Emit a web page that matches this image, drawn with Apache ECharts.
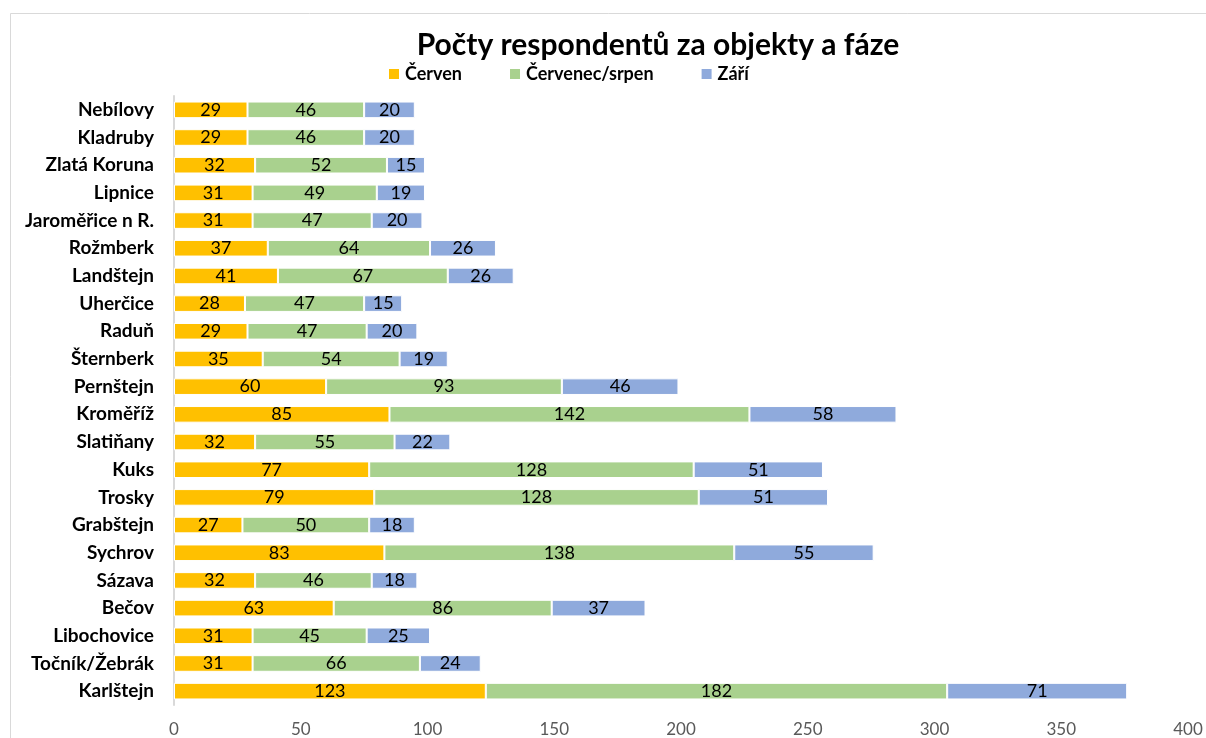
<!DOCTYPE html>
<html>
<head>
<meta charset="utf-8">
<script src="https://cdn.jsdelivr.net/npm/echarts@6/dist/echarts.min.js"></script>
<style>
html,body{margin:0;padding:0;background:#fff;}
#chart{width:1206px;height:738px;}
</style>
</head>
<body>
<div id="chart"></div>
<script>
const categories = ["Nebílovy","Kladruby","Zlatá Koruna","Lipnice","Jaroměřice n R.","Rožmberk","Landštejn","Uherčice","Raduň","Šternberk","Pernštejn","Kroměříž","Slatiňany","Kuks","Trosky","Grabštejn","Sychrov","Sázava","Bečov","Libochovice","Točník/Žebrák","Karlštejn"];
const cerven = [29,29,32,31,31,37,41,28,29,35,60,85,32,77,79,27,83,32,63,31,31,123];
const cervenecSrpen = [46,46,52,49,47,64,67,47,47,54,93,142,55,128,128,50,138,46,86,45,66,182];
const zari = [20,20,15,19,20,26,26,15,20,19,46,58,22,51,51,18,55,18,37,25,24,71];
const seriesNames = ["Červen","Červenec/srpen","Září"];
const xTicks = {min:0, max:400, interval:50};

const FONT = 'Lato, "Open Sans", sans-serif';
const chart = echarts.init(document.getElementById('chart'));
const mk = (name, data, color) => ({
  name, type:'bar', stack:'total', data,
  barCategoryGap:'40%',
  itemStyle:{color, borderColor:'#fff', borderWidth:1},
  label:{show:true, position:'inside', color:'#000', fontSize:18, fontFamily:FONT},
  emphasis:{disabled:true}
});
chart.setOption({
  animation:false,
  backgroundColor:'#fff',
  graphic:[{type:'rect', shape:{x:10.5,y:13.5,width:1400,height:900}, style:{fill:'none', stroke:'#d9d9d9', lineWidth:1}, silent:true, z:-10}],
  title:{text:'Počty respondentů za objekty a fáze', left:653, textAlign:'center', top:25,
    textStyle:{fontSize:30, fontWeight:'bold', color:'#000', fontFamily:FONT}},
  legend:{top:60, left:382, itemWidth:12, itemHeight:12, itemGap:46, icon:'rect',
    textStyle:{fontSize:18, fontWeight:'bold', color:'#000', fontFamily:FONT}},
  grid:{left:174, right:18, top:96, bottom:32, containLabel:false},
  xAxis:{type:'value', min:xTicks.min, max:xTicks.max, interval:xTicks.interval,
    axisLine:{show:false}, axisTick:{show:false}, splitLine:{show:false},
    axisLabel:{color:'#595959', fontSize:17, fontFamily:FONT, margin:16}},
  yAxis:{type:'category', data:categories, inverse:true,
    axisLine:{show:true, lineStyle:{color:'#d9d9d9', width:2}}, axisTick:{show:false},
    axisLabel:{color:'#000', fontSize:19, fontWeight:'bold', fontFamily:FONT, margin:20}},
  series:[mk(seriesNames[0], cerven, '#FFC000'), mk(seriesNames[1], cervenecSrpen, '#A9D18E'), mk(seriesNames[2], zari, '#8FAADC')]
});
</script>
</body>
</html>
